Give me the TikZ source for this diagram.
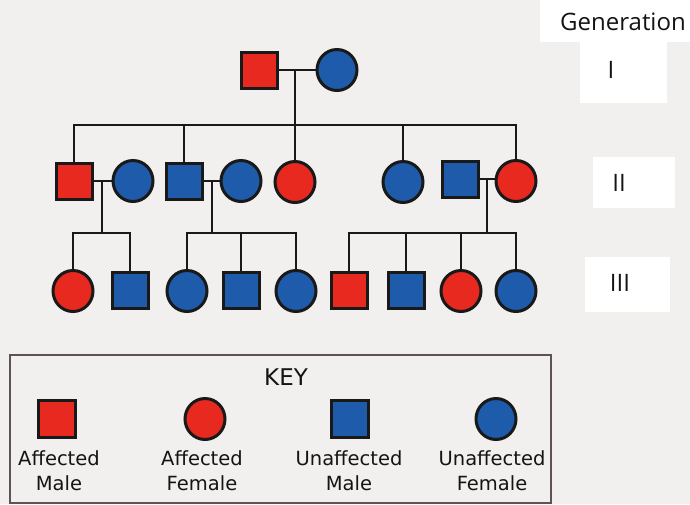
\documentclass[tikz,border=0pt]{standalone}
\usepackage{fontspec}
\setmainfont{DejaVu Sans}
\newfontfamily\genfont{Open Sans}
\usetikzlibrary{shapes.geometric}

\definecolor{affred}{HTML}{E8291F}
\definecolor{unblue}{HTML}{1E5BAA}
\definecolor{bgpaper}{HTML}{F1F0EF}
\definecolor{keyline}{HTML}{5E5352}

\begin{document}
\begin{tikzpicture}[x=1pt,y=-1pt,
  male/.style={draw=black!90,line width=3pt,minimum size=36pt,inner sep=0pt},
  female/.style={ellipse,draw=black!90,line width=3pt,minimum width=40pt,minimum height=41pt,inner sep=0pt},
  aff/.style={fill=affred},
  unaff/.style={fill=unblue},
  link/.style={line width=2pt,draw=black!90},
  genlabel/.style={font=\genfont\fontsize{24}{28}\selectfont,text=black!92},
  keytext/.style={font=\fontsize{19.5}{25}\selectfont,align=center,text=black!92}]
\useasboundingbox (0,0) rectangle (690,504);
\fill[bgpaper] (0,0) rectangle (690,504);

% generation I
\node[male,aff] (i1) at (259,70) {};
\node[female,unaff] (i2) at (337,70) {};
\coordinate (m1) at (295,70);
\coordinate (s1) at (295,125);

% generation II
\node[male,aff] (ii1) at (74,181) {};
\node[female,unaff] (ii2) at (133,181) {};
\node[male,unaff] (ii3) at (184,181) {};
\node[female,unaff] (ii4) at (241,181) {};
\node[female,aff] (ii5) at (295,182) {};
\node[female,unaff] (ii6) at (403,182) {};
\node[male,unaff] (ii7) at (460,179) {};
\node[female,aff] (ii8) at (516,181) {};
\coordinate (m2) at (102,181);
\coordinate (s2) at (102,233);
\coordinate (m3) at (212,181);
\coordinate (s3) at (212,233);
\coordinate (m4) at (487,179);
\coordinate (s4) at (487,233);

% generation III
\node[female,aff] (iii1) at (73,291) {};
\node[male,unaff] (iii2) at (130,290) {};
\node[female,unaff] (iii3) at (187,291) {};
\node[male,unaff] (iii4) at (241,290) {};
\node[female,unaff] (iii5) at (296,291) {};
\node[male,aff] (iii6) at (349,290) {};
\node[male,unaff] (iii7) at (406,290) {};
\node[female,aff] (iii8) at (461,291) {};
\node[female,unaff] (iii9) at (516,291) {};

% couples and sibships
\draw[link] (i1.east) -- (i2.west);
\draw[link] (m1) -- (s1);
\draw[link] (ii1.north) |- (s1) -| (ii8.north);
\draw[link] (ii3.north) -- (ii3.north |- s1);
\draw[link] (ii5.north) -- (ii5.north |- s1);
\draw[link] (ii6.north) -- (ii6.north |- s1);

\draw[link] (ii1.east) -- (ii2.west);
\draw[link] (m2) -- (s2);
\draw[link] (iii1.north) |- (s2) -| (iii2.north);

\draw[link] (ii3.east) -- (ii4.west);
\draw[link] (m3) -- (s3);
\draw[link] (iii3.north) |- (s3) -| (iii5.north);
\draw[link] (iii4.north) -- (iii4.north |- s3);

\draw[link] (ii7.east) -- (ii7.east -| ii8.west);
\draw[link] (m4) -- (s4);
\draw[link] (iii6.north) |- (s4) -| (iii9.north);
\draw[link] (iii7.north) -- (iii7.north |- s4);
\draw[link] (iii8.north) -- (iii8.north |- s4);

% generation labels
\fill[white] (540,0) rectangle (690,42);
\fill[white] (580,42) rectangle (667,103);
\fill[white] (593,157) rectangle (675,208);
\fill[white] (585,257) rectangle (670,312);
\node[genlabel] (gen) at (623,22) {Generation};
\node[genlabel] (g1) at (611,70) {I};
\node[genlabel] (g2) at (619,183) {II};
\node[genlabel] (g3) at (620,283) {III};

% key
\draw[keyline,line width=1.5pt] (10,355) rectangle (551,503);
\node[font=\fontsize{23}{26}\selectfont,text=black!92] (key) at (286,377) {KEY};
\node[male,aff,minimum size=37pt] (k1) at (57,419) {};
\node[female,aff] (k2) at (205,419) {};
\node[male,unaff,minimum size=37pt] (k3) at (350,419) {};
\node[female,unaff] (k4) at (496,419) {};
\node[keytext] (t1) at (59,471) {Affected\\Male};
\node[keytext] (t2) at (202,471) {Affected\\Female};
\node[keytext] (t3) at (349,471) {Unaffected\\Male};
\node[keytext] (t4) at (492,471) {Unaffected\\Female};
\end{tikzpicture}
\end{document}
